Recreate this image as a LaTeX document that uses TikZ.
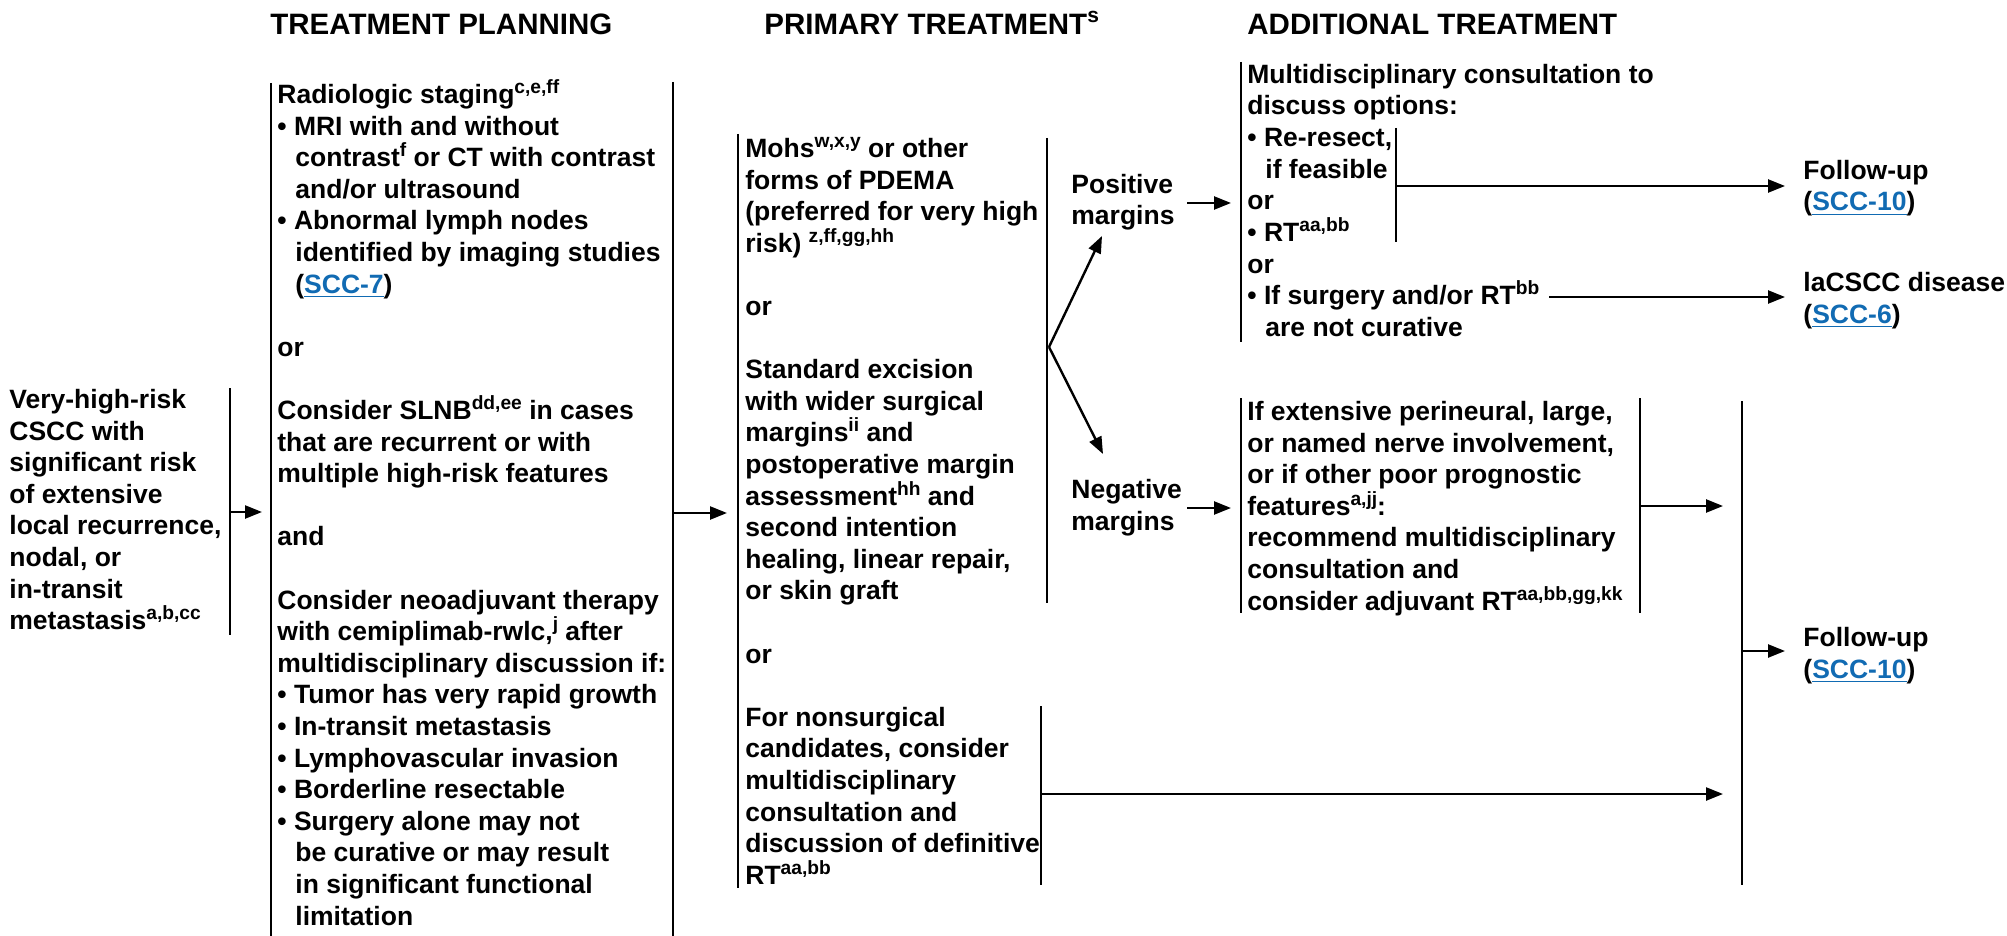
\documentclass[tikz,border=0pt]{standalone}
\usepackage{fontspec}
\setmainfont{Liberation Sans}
\usetikzlibrary{arrows.meta}
\definecolor{linkblue}{RGB}{17,107,179}
% superscript footnote letters
\newcommand\sps[1]{\raisebox{5pt}{\fontsize{9.6}{9.6}\selectfont #1}}
% page reference in link style
\newcommand\lnk[1]{\textcolor{linkblue}{\underline{#1}}}
% hanging indent for bullet continuation lines
\newcommand\ind{\hspace*{9pt}}
\newcommand\vgap{15.8pt}
% fixed height for the first line, so the node top sits 14pt above its first baseline
\newcommand\tstrut{\rule{0pt}{14pt}}
\begin{document}
\begin{tikzpicture}[x=0.5pt,y=-0.5pt,
  txt/.style={anchor=north west,yshift=14pt,inner sep=0pt,align=left,
    font=\fontsize{13.25}{15.8}\selectfont\bfseries},
  head/.style={anchor=base west,inner sep=0pt,
    font=\fontsize{14.75}{17}\selectfont\bfseries},
  bar/.style={line width=1.2pt},
  arr/.style={line width=1.2pt,-{Triangle[length=8.5pt,width=6.5pt]}}]
\useasboundingbox[fill=white] (0,0) rectangle (2007,936);

% column headings
\node[head] (h1) at (270,35) {TREATMENT PLANNING};
\node[head] (h2) at (764,35) {PRIMARY TREATMENT\raisebox{6pt}{\fontsize{10.5}{10.5}\selectfont s}};
\node[head] (h3) at (1247,35) {ADDITIONAL TREATMENT};

% entry condition
\node[txt] (vhr) at (9,408) {\tstrut Very-high-risk\\CSCC with\\significant risk\\of extensive\\local recurrence,\\nodal, or\\in-transit\\metastasis\sps{a,b,cc}};
\coordinate (vhrT) at (230,388); \coordinate (vhrB) at (230,635);
\draw[bar] (vhrT) -- (vhrB);

% treatment planning
\node[txt] (tp) at (277,103) {\tstrut Radiologic staging\sps{c,e,ff}\\
• MRI with and without\\
\ind contrast\sps{f} or CT with contrast\\
\ind and/or ultrasound\\
• Abnormal lymph nodes\\
\ind identified by imaging studies\\
\ind (\lnk{SCC-7})\\[\vgap]
or\\[\vgap]
Consider SLNB\sps{dd,ee} in cases\\
that are recurrent or with\\
multiple high-risk features\\[\vgap]
and\\[\vgap]
Consider neoadjuvant therapy\\
with cemiplimab-rwlc,\sps{j} after\\
multidisciplinary discussion if:\\
• Tumor has very rapid growth\\
• In-transit metastasis\\
• Lymphovascular invasion\\
• Borderline resectable\\
• Surgery alone may not\\
\ind be curative or may result\\
\ind in significant functional\\
\ind limitation};
\coordinate (tpLT) at (271,83); \coordinate (tpLB) at (271,936);
\coordinate (tpRT) at (673,82); \coordinate (tpRB) at (673,936);
\draw[bar] (tpLT) -- (tpLB);
\draw[bar] (tpRT) -- (tpRB);
\coordinate (vhrOut) at (230,512); \coordinate (tpIn) at (262,512);
\draw[arr] (vhrOut) -- (tpIn);

% primary treatment
\node[txt] (pt) at (745,157) {\tstrut Mohs\sps{w,x,y} or other\\
forms of PDEMA\\
(preferred for very high\\
risk) \sps{z,ff,gg,hh}\\[\vgap]
or\\[\vgap]
Standard excision\\
with wider surgical\\
margins\sps{ii} and\\
postoperative margin\\
assessment\sps{hh} and\\
second intention\\
healing, linear repair,\\
or skin graft\\[\vgap]
or\\[\vgap]
For nonsurgical\\
candidates, consider\\
multidisciplinary\\
consultation and\\
discussion of definitive\\
RT\sps{aa,bb}};
\coordinate (ptLT) at (738,134); \coordinate (ptLB) at (738,888);
\draw[bar] (ptLT) -- (ptLB);
\coordinate (tpOut) at (673,513); \coordinate (ptIn) at (727,513);
\draw[arr] (tpOut) -- (ptIn);
\coordinate (surgT) at (1047,138); \coordinate (surgB) at (1047,603);
\draw[bar] (surgT) -- (surgB);
\coordinate (nsT) at (1041,706); \coordinate (nsB) at (1041,885);
\draw[bar] (nsT) -- (nsB);

% margin status
\node[txt] (pos) at (1071,193) {\tstrut Positive\\margins};
\node[txt] (neg) at (1071,498) {\tstrut Negative\\margins};
\coordinate (fork) at (1049,347);
\coordinate (posIn) at (1102,236); \coordinate (negIn) at (1103,454);
\draw[arr] (fork) -- (posIn);
\draw[arr] (fork) -- (negIn);

% additional treatment: positive margins
\node[txt] (add1) at (1247,83) {\tstrut Multidisciplinary consultation to\\
discuss options:\\
• Re-resect,\\
\ind if feasible\\
or\\
• RT\sps{aa,bb}\\
or\\
• If surgery and/or RT\sps{bb}\\
\ind are not curative};
\coordinate (a1T) at (1241,62); \coordinate (a1B) at (1241,342);
\draw[bar] (a1T) -- (a1B);
\coordinate (rrT) at (1396,128); \coordinate (rrB) at (1396,242);
\draw[bar] (rrT) -- (rrB);
\coordinate (posOut) at (1187,203); \coordinate (a1In) at (1231,203);
\draw[arr] (posOut) -- (a1In);

% additional treatment: negative margins
\node[txt] (add2) at (1247,420) {\tstrut If extensive perineural, large,\\
or named nerve involvement,\\
or if other poor prognostic\\
features\sps{a,jj}:\\
recommend multidisciplinary\\
consultation and\\
consider adjuvant RT\sps{aa,bb,gg,kk}};
\coordinate (a2LT) at (1241,398); \coordinate (a2LB) at (1241,613);
\coordinate (a2RT) at (1640,398); \coordinate (a2RB) at (1640,613);
\draw[bar] (a2LT) -- (a2LB);
\draw[bar] (a2RT) -- (a2RB);
\coordinate (negOut) at (1187,508); \coordinate (a2In) at (1231,508);
\draw[arr] (negOut) -- (a2In);

% outcomes
\node[txt] (fu1) at (1803,179) {\tstrut Follow-up\\(\lnk{SCC-10})};
\node[txt] (la) at (1803,291) {\tstrut laCSCC disease\\(\lnk{SCC-6})};
\node[txt] (fu2) at (1803,646) {\tstrut Follow-up\\(\lnk{SCC-10})};
\coordinate (fuT) at (1742,401); \coordinate (fuB) at (1742,885);
\draw[bar] (fuT) -- (fuB);

\coordinate (rrOut) at (1396,186); \coordinate (fu1In) at (1785,186);
\draw[arr] (rrOut) -- (fu1In);
\coordinate (ncOut) at (1549,297); \coordinate (laIn) at (1785,297);
\draw[arr] (ncOut) -- (laIn);
\coordinate (a2Out) at (1640,506); \coordinate (fuIn1) at (1723,506);
\draw[arr] (a2Out) -- (fuIn1);
\coordinate (nsOut) at (1041,794); \coordinate (fuIn2) at (1723,794);
\draw[arr] (nsOut) -- (fuIn2);
\coordinate (fuOut) at (1742,651); \coordinate (fu2In) at (1785,651);
\draw[arr] (fuOut) -- (fu2In);
\end{tikzpicture}
\end{document}
